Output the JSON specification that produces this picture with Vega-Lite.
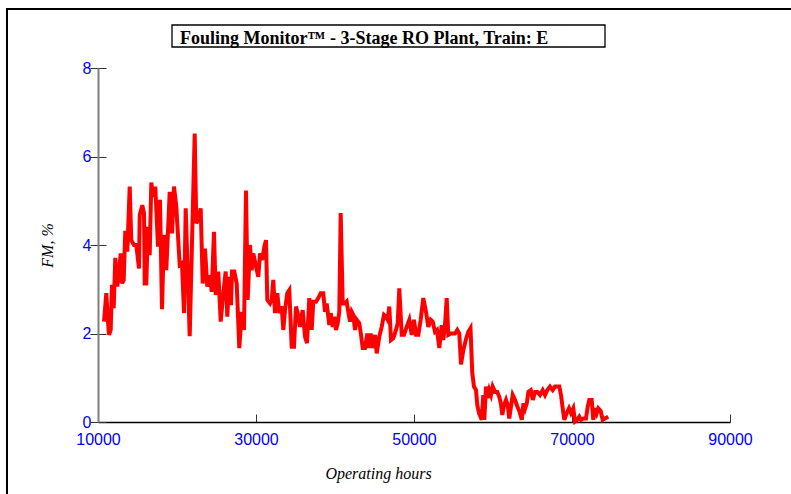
{
  "$schema": "https://vega.github.io/schema/vega-lite/v6.json",
  "width": 632,
  "height": 354,
  "autosize": "none",
  "padding": {"left": 98, "top": 68, "right": 61, "bottom": 72},
  "background": "white",
  "config": {"view": {"stroke": null}},
  "datasets": {
    "fm": [
        {"hours": 10759, "fm": 2.27}, {"hours": 11051, "fm": 2.91}, {"hours": 11266, "fm": 2.27}, {"hours": 11392, "fm": 1.97},
        {"hours": 11608, "fm": 2.08}, {"hours": 11772, "fm": 3.10}, {"hours": 11987, "fm": 2.57}, {"hours": 12190, "fm": 3.71},
        {"hours": 12443, "fm": 3.06}, {"hours": 12658, "fm": 3.40}, {"hours": 12873, "fm": 3.81}, {"hours": 13038, "fm": 3.13},
        {"hours": 13253, "fm": 3.21}, {"hours": 13456, "fm": 4.32}, {"hours": 13709, "fm": 3.85}, {"hours": 14013, "fm": 5.32},
        {"hours": 14215, "fm": 4.11}, {"hours": 14557, "fm": 4.0}, {"hours": 14848, "fm": 4.0}, {"hours": 15190, "fm": 3.47},
        {"hours": 15279, "fm": 4.68}, {"hours": 15608, "fm": 4.90}, {"hours": 15823, "fm": 4.72}, {"hours": 15911, "fm": 3.13},
        {"hours": 16114, "fm": 3.13}, {"hours": 16329, "fm": 4.41}, {"hours": 16544, "fm": 3.77}, {"hours": 16747, "fm": 5.41},
        {"hours": 16962, "fm": 5.09}, {"hours": 17253, "fm": 5.32}, {"hours": 17595, "fm": 3.96}, {"hours": 17848, "fm": 5.02},
        {"hours": 18101, "fm": 2.55}, {"hours": 18354, "fm": 4.23}, {"hours": 18645, "fm": 3.43}, {"hours": 19076, "fm": 5.20},
        {"hours": 19367, "fm": 4.26}, {"hours": 19620, "fm": 5.32}, {"hours": 19911, "fm": 4.87}, {"hours": 20342, "fm": 3.55},
        {"hours": 20633, "fm": 3.59}, {"hours": 20886, "fm": 2.46}, {"hours": 21101, "fm": 4.83}, {"hours": 21608, "fm": 1.94},
        {"hours": 22240, "fm": 6.52}, {"hours": 22443, "fm": 4.49}, {"hours": 22747, "fm": 4.60}, {"hours": 23000, "fm": 4.83},
        {"hours": 23253, "fm": 3.13}, {"hours": 23544, "fm": 3.92}, {"hours": 23835, "fm": 3.06}, {"hours": 24177, "fm": 3.32},
        {"hours": 24392, "fm": 2.94}, {"hours": 24683, "fm": 4.30}, {"hours": 24898, "fm": 2.87}, {"hours": 25227, "fm": 3.40},
        {"hours": 25531, "fm": 2.27}, {"hours": 25861, "fm": 2.91}, {"hours": 26165, "fm": 3.40}, {"hours": 26367, "fm": 2.38},
        {"hours": 26620, "fm": 3.28}, {"hours": 26835, "fm": 2.64}, {"hours": 26962, "fm": 3.40}, {"hours": 27253, "fm": 3.40},
        {"hours": 27557, "fm": 3.13}, {"hours": 27886, "fm": 1.67}, {"hours": 28190, "fm": 2.49}, {"hours": 28481, "fm": 2.08},
        {"hours": 28734, "fm": 5.23}, {"hours": 28949, "fm": 2.76}, {"hours": 29240, "fm": 4.0}, {"hours": 29456, "fm": 3.43},
        {"hours": 29658, "fm": 3.81}, {"hours": 30000, "fm": 3.51}, {"hours": 30291, "fm": 3.28}, {"hours": 30506, "fm": 3.81},
        {"hours": 30797, "fm": 3.66}, {"hours": 31051, "fm": 3.96}, {"hours": 31266, "fm": 4.11}, {"hours": 31430, "fm": 2.76},
        {"hours": 31772, "fm": 2.68}, {"hours": 31987, "fm": 2.76}, {"hours": 32190, "fm": 3.21}, {"hours": 32405, "fm": 2.46},
        {"hours": 32696, "fm": 2.91}, {"hours": 32949, "fm": 2.46}, {"hours": 33253, "fm": 2.61}, {"hours": 33456, "fm": 2.08},
        {"hours": 33671, "fm": 2.53}, {"hours": 33962, "fm": 2.91}, {"hours": 34215, "fm": 2.98}, {"hours": 34519, "fm": 1.70},
        {"hours": 34810, "fm": 1.70}, {"hours": 35063, "fm": 2.61}, {"hours": 35278, "fm": 2.46}, {"hours": 35569, "fm": 2.15},
        {"hours": 35911, "fm": 2.53}, {"hours": 36202, "fm": 1.93}, {"hours": 36456, "fm": 1.78}, {"hours": 36747, "fm": 2.80},
        {"hours": 37051, "fm": 2.08}, {"hours": 37253, "fm": 2.72}, {"hours": 37595, "fm": 2.72}, {"hours": 37886, "fm": 2.80},
        {"hours": 38190, "fm": 2.91}, {"hours": 38519, "fm": 2.91}, {"hours": 38734, "fm": 2.49}, {"hours": 38949, "fm": 2.68},
        {"hours": 39278, "fm": 2.19}, {"hours": 39456, "fm": 2.46}, {"hours": 39709, "fm": 2.15}, {"hours": 39911, "fm": 2.38},
        {"hours": 40127, "fm": 2.08}, {"hours": 40342, "fm": 2.23}, {"hours": 40544, "fm": 2.49}, {"hours": 40721, "fm": 4.72},
        {"hours": 40975, "fm": 2.68}, {"hours": 41266, "fm": 2.68}, {"hours": 41481, "fm": 2.72}, {"hours": 41684, "fm": 2.49},
        {"hours": 41899, "fm": 2.27}, {"hours": 42114, "fm": 2.49}, {"hours": 42316, "fm": 2.42}, {"hours": 42532, "fm": 2.08},
        {"hours": 42747, "fm": 2.31}, {"hours": 43076, "fm": 2.23}, {"hours": 43291, "fm": 1.97}, {"hours": 43506, "fm": 1.67},
        {"hours": 43797, "fm": 1.67}, {"hours": 44089, "fm": 2.0}, {"hours": 44304, "fm": 1.67}, {"hours": 44519, "fm": 2.0},
        {"hours": 44772, "fm": 1.67}, {"hours": 45063, "fm": 1.97}, {"hours": 45278, "fm": 1.55}, {"hours": 45608, "fm": 1.93},
        {"hours": 45911, "fm": 2.15}, {"hours": 46202, "fm": 2.42}, {"hours": 46456, "fm": 2.38}, {"hours": 46671, "fm": 2.31},
        {"hours": 46873, "fm": 2.61}, {"hours": 47089, "fm": 1.85}, {"hours": 47380, "fm": 1.89}, {"hours": 47722, "fm": 2.08},
        {"hours": 47937, "fm": 2.23}, {"hours": 48139, "fm": 3.02}, {"hours": 48443, "fm": 1.97}, {"hours": 48734, "fm": 1.97},
        {"hours": 49076, "fm": 2.15}, {"hours": 49405, "fm": 2.31}, {"hours": 49709, "fm": 1.97}, {"hours": 50000, "fm": 2.31},
        {"hours": 50253, "fm": 1.97}, {"hours": 50544, "fm": 1.97}, {"hours": 50848, "fm": 2.31}, {"hours": 51177, "fm": 2.80},
        {"hours": 51519, "fm": 2.49}, {"hours": 51810, "fm": 2.15}, {"hours": 52114, "fm": 2.31}, {"hours": 52367, "fm": 2.27},
        {"hours": 52658, "fm": 2.04}, {"hours": 52911, "fm": 2.08}, {"hours": 53203, "fm": 1.67}, {"hours": 53506, "fm": 2.19},
        {"hours": 53709, "fm": 1.85}, {"hours": 53924, "fm": 2.19}, {"hours": 54139, "fm": 2.80}, {"hours": 54342, "fm": 1.97},
        {"hours": 54646, "fm": 2.0}, {"hours": 54937, "fm": 2.0}, {"hours": 55190, "fm": 2.0}, {"hours": 55481, "fm": 2.08},
        {"hours": 55734, "fm": 2.0}, {"hours": 55949, "fm": 1.3}, {"hours": 56240, "fm": 1.62}, {"hours": 56582, "fm": 1.87},
        {"hours": 56873, "fm": 2.04}, {"hours": 57152, "fm": 2.12}, {"hours": 57380, "fm": 1.10}, {"hours": 57595, "fm": 0.80},
        {"hours": 57848, "fm": 0.72}, {"hours": 58013, "fm": 0.38}, {"hours": 58228, "fm": 0.20}, {"hours": 58570, "fm": 0.05},
        {"hours": 58772, "fm": 0.61}, {"hours": 58899, "fm": 0.05}, {"hours": 59114, "fm": 0.80}, {"hours": 59329, "fm": 0.54},
        {"hours": 59532, "fm": 0.72}, {"hours": 59747, "fm": 0.61}, {"hours": 59962, "fm": 0.80}, {"hours": 60253, "fm": 0.68},
        {"hours": 60544, "fm": 0.68}, {"hours": 60797, "fm": 0.57}, {"hours": 61013, "fm": 0.40}, {"hours": 61177, "fm": 0.16},
        {"hours": 61392, "fm": 0.38}, {"hours": 61646, "fm": 0.50}, {"hours": 61861, "fm": 0.38}, {"hours": 62063, "fm": 0.08},
        {"hours": 62278, "fm": 0.35}, {"hours": 62494, "fm": 0.61}, {"hours": 62785, "fm": 0.50}, {"hours": 63076, "fm": 0.35},
        {"hours": 63329, "fm": 0.25}, {"hours": 63646, "fm": 0.05}, {"hours": 63848, "fm": 0.42}, {"hours": 64063, "fm": 0.30},
        {"hours": 64278, "fm": 0.42}, {"hours": 64481, "fm": 0.68}, {"hours": 64785, "fm": 0.72}, {"hours": 65038, "fm": 0.50},
        {"hours": 65329, "fm": 0.68}, {"hours": 65620, "fm": 0.68}, {"hours": 65949, "fm": 0.61}, {"hours": 66291, "fm": 0.72},
        {"hours": 66582, "fm": 0.61}, {"hours": 66873, "fm": 0.72}, {"hours": 67215, "fm": 0.80}, {"hours": 67557, "fm": 0.72},
        {"hours": 67848, "fm": 0.80}, {"hours": 68139, "fm": 0.80}, {"hours": 68392, "fm": 0.80}, {"hours": 68608, "fm": 0.61},
        {"hours": 68823, "fm": 0.31}, {"hours": 69025, "fm": 0.05}, {"hours": 69329, "fm": 0.20}, {"hours": 69620, "fm": 0.31},
        {"hours": 69873, "fm": 0.20}, {"hours": 70165, "fm": 0.31}, {"hours": 70380, "fm": 0.01}, {"hours": 70671, "fm": 0.05},
        {"hours": 70924, "fm": 0.12}, {"hours": 71139, "fm": 0.05}, {"hours": 71430, "fm": 0.08}, {"hours": 71772, "fm": 0.08},
        {"hours": 71987, "fm": 0.35}, {"hours": 72190, "fm": 0.50}, {"hours": 72494, "fm": 0.50}, {"hours": 72696, "fm": 0.05},
        {"hours": 72911, "fm": 0.31}, {"hours": 73127, "fm": 0.20}, {"hours": 73329, "fm": 0.31}, {"hours": 73633, "fm": 0.25},
        {"hours": 73886, "fm": 0.05}, {"hours": 74177, "fm": 0.08}, {"hours": 74595, "fm": 0.12}
    ]
  },
  "resolve": {"axis": {"x": "independent", "y": "independent"}},
  "layer": [
    {
      "data": {"values": [{"part": "frame"}]},
      "mark": {"type": "rect", "filled": false, "stroke": "black", "strokeWidth": 2, "clip": false},
      "encoding": {
        "x": {"datum": -1519, "type": "quantitative", "scale": {"domain": [10000, 90000], "nice": false, "zero": false}, "axis": null},
        "x2": {"datum": 100000},
        "y": {"datum": 9.333, "type": "quantitative", "scale": {"domain": [0, 8], "nice": false, "zero": false}, "axis": null},
        "y2": {"datum": -2}
      }
    },
    {
      "data": {"values": [{"part": "titlebox"}]},
      "mark": {"type": "rect", "filled": false, "stroke": "black", "strokeWidth": 1.3, "clip": false},
      "encoding": {
        "x": {"datum": 19367, "type": "quantitative", "axis": null},
        "x2": {"datum": 74177},
        "y": {"datum": 8.972, "type": "quantitative", "axis": null},
        "y2": {"datum": 8.475}
      }
    },
    {
      "data": {"values": [{"title": "Fouling Monitor™ - 3-Stage RO Plant, Train: E"}]},
      "mark": {"type": "text", "font": "Liberation Serif", "fontSize": 18, "fontWeight": "bold", "align": "left", "baseline": "alphabetic", "color": "black", "clip": false},
      "encoding": {
        "x": {"datum": 20380, "type": "quantitative", "axis": null},
        "y": {"datum": 8.55, "type": "quantitative", "axis": null},
        "text": {"field": "title"}
      }
    },
    {
      "data": {"name": "fm"},
      "mark": {"type": "line", "strokeOpacity": 0, "clip": false},
      "encoding": {
        "x": {"field": "hours", "type": "quantitative", "axis": null},
        "y": {
          "field": "fm", "type": "quantitative",
          "axis": {"orient": "left", "values": [0, 2, 4, 6, 8], "tickSize": -8, "tickColor": "#333333", "tickWidth": 1, "labels": false, "domain": false, "grid": false, "title": null}
        }
      }
    },
    {
      "data": {"name": "fm"},
      "mark": {"type": "line", "color": "#ff0000", "strokeWidth": 4, "strokeJoin": "miter", "clip": false},
      "encoding": {
        "x": {
          "field": "hours", "type": "quantitative",
          "axis": {
            "orient": "bottom",
            "values": [10000, 30000, 50000, 70000, 90000],
            "format": "d",
            "tickSize": -8, "tickColor": "#333333", "tickWidth": 1,
            "domainColor": "black", "domainWidth": 1.5,
            "grid": false,
            "labelColor": "#0000ff", "labelFont": "Liberation Sans", "labelFontSize": 16,
            "labelPadding": 17, "labelBaseline": "top", "labelFlush": false, "labelOverlap": false,
            "title": "Operating hours",
            "titleFont": "Liberation Serif", "titleFontStyle": "italic", "titleFontWeight": "normal", "titleFontSize": 16,
            "titleColor": "black",
            "titleX": 280, "titleY": 56, "titleAlign": "center", "titleBaseline": "alphabetic"
          }
        },
        "y": {
          "field": "fm", "type": "quantitative",
          "axis": {
            "orient": "left",
            "values": [0, 2, 4, 6, 8],
            "tickSize": 8, "tickColor": "#333333", "tickWidth": 1,
            "domainColor": "#7f7f7f", "domainWidth": 2,
            "grid": false,
            "labelColor": "#0000ff", "labelFont": "Liberation Sans", "labelFontSize": 16,
            "labelPadding": -1, "labelBaseline": "middle", "labelFlush": false, "labelOverlap": false,
            "title": "FM, %",
            "titleFont": "Liberation Serif", "titleFontStyle": "italic", "titleFontWeight": "normal", "titleFontSize": 16,
            "titleColor": "black",
            "titleX": -51, "titleY": 177, "titleAngle": 270, "titleAlign": "center", "titleBaseline": "middle"
          }
        }
      }
    }
  ]
}
